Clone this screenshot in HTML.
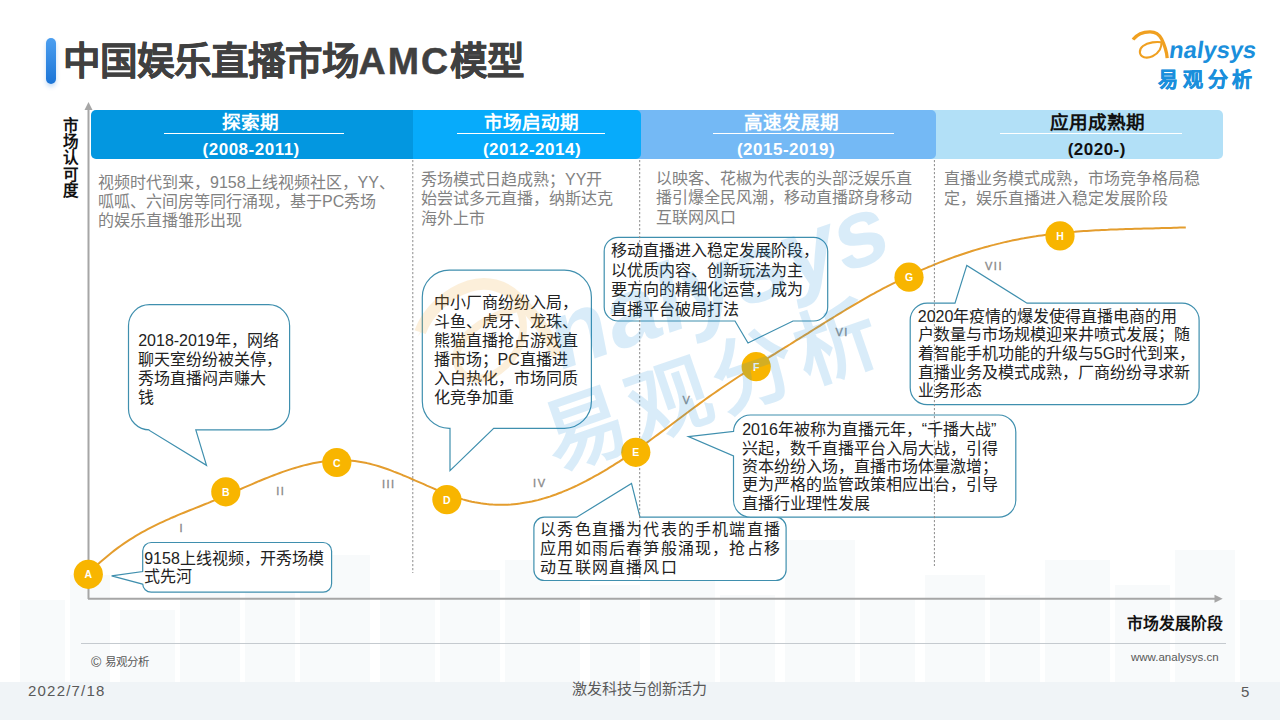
<!DOCTYPE html>
<html lang="zh-CN"><head><meta charset="utf-8"><style>
html,body{margin:0;padding:0;}
body{width:1280px;height:720px;position:relative;overflow:hidden;background:#fff;font-family:"Liberation Sans",sans-serif;}
.a{position:absolute;white-space:nowrap;}
.title{left:62.6px;top:29.5px;font-size:37.5px;font-weight:bold;color:#404040;-webkit-text-stroke:0.5px #404040;}
.bar{left:46px;top:38px;width:10px;height:46px;border-radius:5px;background:linear-gradient(#4c9ff0,#1b74d6);box-shadow:0 3px 4px rgba(30,120,220,0.25);}
.hd{top:110px;height:49px;}
.ht{font-size:18.6px;font-weight:bold;text-align:center;width:300px;top:107px;}
.hy{font-size:17px;font-weight:bold;text-align:center;width:300px;top:140px;letter-spacing:0.5px;}
.ds{font-size:16px;color:#828282;}
.ct{font-size:16px;color:#222;}
.co{fill:#fff;fill-opacity:1;stroke:#3f8fae;stroke-width:1.2;}
.nd{fill:#f8b500;}
.nt{font-size:10.5px;font-weight:bold;fill:#fff;}
.rm{font-size:11px;fill:#8a8a8a;stroke:#8a8a8a;stroke-width:0.35;}
.ft{color:#595959;}
</style></head><body>

<svg class="a" style="left:0;top:0" width="1280" height="720"><rect x="20" y="600" width="45" height="82" fill="#f8fafb"/><rect x="70" y="575" width="40" height="107" fill="#f8fafb"/><rect x="120" y="610" width="55" height="72" fill="#f8fafb"/><rect x="180" y="560" width="60" height="122" fill="#f8fafb"/><rect x="245" y="590" width="50" height="92" fill="#f8fafb"/><rect x="300" y="555" width="70" height="127" fill="#f8fafb"/><rect x="380" y="600" width="55" height="82" fill="#f8fafb"/><rect x="440" y="570" width="60" height="112" fill="#f8fafb"/><rect x="505" y="560" width="75" height="122" fill="#f8fafb"/><rect x="590" y="585" width="50" height="97" fill="#f8fafb"/><rect x="650" y="555" width="65" height="127" fill="#f8fafb"/><rect x="720" y="595" width="55" height="87" fill="#f8fafb"/><rect x="785" y="540" width="70" height="142" fill="#f8fafb"/><rect x="860" y="600" width="55" height="82" fill="#f8fafb"/><rect x="925" y="575" width="60" height="107" fill="#f8fafb"/><rect x="990" y="595" width="50" height="87" fill="#f8fafb"/><rect x="1045" y="560" width="65" height="122" fill="#f8fafb"/><rect x="1115" y="585" width="55" height="97" fill="#f8fafb"/><rect x="1175" y="550" width="60" height="132" fill="#f8fafb"/><rect x="1240" y="600" width="40" height="82" fill="#f8fafb"/><rect x="0" y="682" width="1280" height="38" fill="#f0f4f7"/></svg>
<div class="a bar"></div>
<div class="a title">中国娱乐直播市场<span style="letter-spacing:2px">AMC</span>模型</div>
<svg class="a" style="left:1128px;top:28px;overflow:visible" width="130" height="66"><g><path d="M5.0,11.6 C9,6.5 16,3.8 22.2,3.9 C27.5,4.0 31.5,7 33.6,11 C35.8,15.5 38.6,21.5 39.2,30.2" fill="none" stroke="#f0a020" stroke-width="3.3" stroke-linecap="butt"/>
<path d="M5.0,11.6 L3.8,12.6 L7.5,10.2 Z" fill="#f0a020"/>
<path d="M33.5,14.3 C29,13.6 20,14 15,18 C10.5,21.5 10.8,27.5 16,29.2 C21,30.8 28.5,27.5 31.8,21.8 C33.2,19.2 33.6,16.5 33.5,14.3" fill="none" stroke="#f0a020" stroke-width="2.1"/>
<text x="44.6" y="30.3" font-size="23.7" font-weight="bold" fill="#1a8fdc" font-family="Liberation Sans" transform="skewX(-8)" >nalysys</text>
<text x="30" y="59" font-size="20" font-weight="bold" fill="#1a8fdc" stroke="#1a8fdc" stroke-width="0.5" letter-spacing="4.8">易观分析</text></g></svg>
<div class="a hd" style="left:930.0px;width:293.0px;background:#b2e0f7;border-radius:0 5px 5px 0"></div>
<div class="a hd" style="left:635.0px;width:301.0px;background:#74b9f5;border-radius:0 5px 5px 0"></div>
<div class="a hd" style="left:406.5px;width:234.5px;background:#07abfb;border-radius:0 5px 5px 0"></div>
<div class="a hd" style="left:91.0px;width:321.5px;background:#0397e0;border-radius:5px 0 0 5px"></div>
<div class="a ht" style="left:100.5px;color:#fff">探索期</div>
<div class="a hy" style="left:101.2px;color:#fff">(2008-2011)</div>
<div class="a" style="left:163.5px;top:133px;width:180.5px;height:1px;background:#fff"></div>
<div class="a ht" style="left:381.4px;color:#fff">市场启动期</div>
<div class="a hy" style="left:382.0px;color:#fff">(2012-2014)</div>
<div class="a" style="left:457.0px;top:133px;width:147.5px;height:1px;background:#fff"></div>
<div class="a ht" style="left:641.5px;color:#fff">高速发展期</div>
<div class="a hy" style="left:636.0px;color:#fff">(2015-2019)</div>
<div class="a" style="left:712.5px;top:133px;width:181.5px;height:1px;background:#fff"></div>
<div class="a ht" style="left:947.5px;color:#111">应用成熟期</div>
<div class="a hy" style="left:946.8px;color:#111">(2020-)</div>
<div class="a" style="left:999.5px;top:133px;width:182.5px;height:1px;background:#fff"></div>
<div class="a ds" style="left:98.0px;top:172.50px;line-height:19.00px">视频时代到来，9158上线视频社区，YY、<br>呱呱、六间房等同行涌现，基于PC秀场<br>的娱乐直播雏形出现</div>
<div class="a ds" style="left:421.0px;top:169.90px;line-height:19.40px">秀场模式日趋成熟；YY开<br>始尝试多元直播，纳斯达克<br>海外上市</div>
<div class="a ds" style="left:656.0px;top:168.85px;line-height:19.50px">以映客、花椒为代表的头部泛娱乐直<br>播引爆全民风潮，移动直播跻身移动<br>互联网风口</div>
<div class="a ds" style="left:944.0px;top:169.05px;line-height:20.10px">直播业务模式成熟，市场竞争格局稳<br>定，娱乐直播进入稳定发展阶段</div>
<div class="a" style="left:62.5px;top:118px;font-size:15.5px;font-weight:bold;color:#111;line-height:16.2px;width:18px;white-space:normal">市<br>场<br>认<br>可<br>度</div>
<svg class="a" style="left:0;top:0" width="1280" height="720"><line x1="88.5" y1="599" x2="88.5" y2="108" stroke="#a6a6a6" stroke-width="2"/><path d="M84.5,110 L88.5,102 L92.5,110 Z" fill="#a6a6a6"/><line x1="88" y1="598.7" x2="1216" y2="598.7" stroke="#a6a6a6" stroke-width="2"/><path d="M1214.5,594.7 L1222.7,598.7 L1214.5,602.7 Z" fill="#a6a6a6"/><path d="M87.8,574.3 L90.8,571.2 L93.8,568.2 L96.8,565.4 L99.8,562.6 L102.8,560.0 L105.8,557.4 L108.8,554.9 L111.8,552.5 L114.8,550.1 L117.8,547.9 L120.8,545.7 L123.8,543.6 L126.8,541.6 L129.8,539.7 L132.8,537.8 L135.8,535.9 L138.8,534.2 L141.8,532.4 L144.8,530.8 L147.8,529.2 L150.8,527.6 L153.8,526.1 L156.8,524.6 L159.8,523.2 L162.8,521.8 L165.8,520.4 L168.8,519.1 L171.8,517.7 L174.8,516.5 L177.8,515.2 L180.8,513.9 L183.8,512.7 L186.8,511.5 L189.8,510.3 L192.8,509.1 L195.8,507.9 L198.8,506.7 L201.8,505.5 L204.8,504.3 L207.8,503.1 L210.8,501.8 L213.8,500.6 L216.8,499.3 L219.8,498.1 L222.8,496.8 L225.8,495.5 L228.8,494.2 L231.8,492.9 L234.8,491.6 L237.8,490.3 L240.8,489.0 L243.8,487.7 L246.8,486.4 L249.8,485.1 L252.8,483.8 L255.8,482.5 L258.8,481.2 L261.8,480.0 L264.8,478.8 L267.8,477.6 L270.8,476.4 L273.8,475.2 L276.8,474.1 L279.8,473.0 L282.8,471.9 L285.8,470.9 L288.8,469.9 L291.8,468.9 L294.8,468.0 L297.8,467.1 L300.8,466.2 L303.8,465.4 L306.8,464.7 L309.8,464.0 L312.8,463.3 L315.8,462.7 L318.8,462.2 L321.8,461.7 L324.8,461.3 L327.8,461.0 L330.8,460.7 L333.8,460.5 L336.8,460.3 L339.8,460.2 L342.8,460.2 L345.8,460.3 L348.8,460.5 L351.8,460.7 L354.8,461.0 L357.8,461.4 L360.8,461.9 L363.8,462.5 L366.8,463.1 L369.8,463.8 L372.8,464.6 L375.8,465.4 L378.8,466.3 L381.8,467.3 L384.8,468.3 L387.8,469.3 L390.8,470.4 L393.8,471.6 L396.8,472.7 L399.8,473.9 L402.8,475.2 L405.8,476.4 L408.8,477.7 L411.8,479.0 L414.8,480.3 L417.8,481.6 L420.8,482.9 L423.8,484.2 L426.8,485.6 L429.8,486.9 L432.8,488.2 L435.8,489.5 L438.8,490.7 L441.8,492.0 L444.8,493.2 L447.8,494.3 L450.8,495.5 L453.8,496.5 L456.8,497.5 L459.8,498.5 L462.8,499.4 L465.8,500.2 L468.8,501.0 L471.8,501.7 L474.8,502.3 L477.8,502.8 L480.8,503.3 L483.8,503.7 L486.8,504.1 L489.8,504.4 L492.8,504.6 L495.8,504.7 L498.8,504.8 L501.8,504.8 L504.8,504.8 L507.8,504.7 L510.8,504.5 L513.8,504.2 L516.8,503.9 L519.8,503.6 L522.8,503.1 L525.8,502.6 L528.8,502.1 L531.8,501.5 L534.8,500.8 L537.8,500.1 L540.8,499.3 L543.8,498.4 L546.8,497.5 L549.8,496.6 L552.8,495.5 L555.8,494.5 L558.8,493.3 L561.8,492.2 L564.8,490.9 L567.8,489.7 L570.8,488.3 L573.8,487.0 L576.8,485.6 L579.8,484.1 L582.8,482.6 L585.8,481.1 L588.8,479.5 L591.8,477.9 L594.8,476.2 L597.8,474.6 L600.8,472.8 L603.8,471.1 L606.8,469.3 L609.8,467.4 L612.8,465.6 L615.8,463.7 L618.8,461.8 L621.8,459.8 L624.8,457.9 L627.8,455.9 L630.8,453.8 L633.8,451.8 L636.8,449.7 L639.8,447.6 L642.8,445.5 L645.8,443.4 L648.8,441.2 L651.8,439.0 L654.8,436.8 L657.8,434.6 L660.8,432.4 L663.8,430.2 L666.8,428.0 L669.8,425.7 L672.8,423.5 L675.8,421.2 L678.8,419.0 L681.8,416.7 L684.8,414.5 L687.8,412.3 L690.8,410.0 L693.8,407.8 L696.8,405.6 L699.8,403.4 L702.8,401.2 L705.8,399.0 L708.8,396.9 L711.8,394.8 L714.8,392.7 L717.8,390.6 L720.8,388.5 L723.8,386.5 L726.8,384.5 L729.8,382.5 L732.8,380.5 L735.8,378.5 L738.8,376.5 L741.8,374.6 L744.8,372.6 L747.8,370.7 L750.8,368.8 L753.8,366.9 L756.8,365.0 L759.8,363.1 L762.8,361.2 L765.8,359.4 L768.8,357.5 L771.8,355.6 L774.8,353.8 L777.8,351.9 L780.8,350.0 L783.8,348.2 L786.8,346.3 L789.8,344.5 L792.8,342.6 L795.8,340.7 L798.8,338.9 L801.8,337.0 L804.8,335.1 L807.8,333.3 L810.8,331.4 L813.8,329.5 L816.8,327.6 L819.8,325.8 L822.8,323.9 L825.8,322.0 L828.8,320.2 L831.8,318.3 L834.8,316.5 L837.8,314.6 L840.8,312.8 L843.8,311.0 L846.8,309.2 L849.8,307.4 L852.8,305.6 L855.8,303.8 L858.8,302.1 L861.8,300.3 L864.8,298.6 L867.8,296.9 L870.8,295.2 L873.8,293.6 L876.8,291.9 L879.8,290.3 L882.8,288.7 L885.8,287.2 L888.8,285.6 L891.8,284.1 L894.8,282.6 L897.8,281.1 L900.8,279.6 L903.8,278.1 L906.8,276.7 L909.8,275.3 L912.8,273.9 L915.8,272.6 L918.8,271.2 L921.8,269.9 L924.8,268.6 L927.8,267.3 L930.8,266.1 L933.8,264.8 L936.8,263.6 L939.8,262.4 L942.8,261.3 L945.8,260.1 L948.8,259.0 L951.8,257.9 L954.8,256.8 L957.8,255.8 L960.8,254.7 L963.8,253.7 L966.8,252.7 L969.8,251.8 L972.8,250.8 L975.8,249.9 L978.8,249.0 L981.8,248.1 L984.8,247.3 L987.8,246.5 L990.8,245.6 L993.8,244.9 L996.8,244.1 L999.8,243.4 L1002.8,242.6 L1005.8,241.9 L1008.8,241.3 L1011.8,240.6 L1014.8,240.0 L1017.8,239.4 L1020.8,238.8 L1023.8,238.3 L1026.8,237.7 L1029.8,237.2 L1032.8,236.7 L1035.8,236.3 L1038.8,235.8 L1041.8,235.4 L1044.8,235.0 L1047.8,234.6 L1050.8,234.2 L1053.8,233.8 L1056.8,233.5 L1059.8,233.2 L1062.8,232.9 L1065.8,232.6 L1068.8,232.3 L1071.8,232.0 L1074.8,231.8 L1077.8,231.5 L1080.8,231.3 L1083.8,231.1 L1086.8,230.9 L1089.8,230.7 L1092.8,230.5 L1095.8,230.3 L1098.8,230.2 L1101.8,230.0 L1104.8,229.9 L1107.8,229.8 L1110.8,229.6 L1113.8,229.5 L1116.8,229.4 L1119.8,229.3 L1122.8,229.2 L1125.8,229.1 L1128.8,229.0 L1131.8,228.9 L1134.8,228.8 L1137.8,228.7 L1140.8,228.7 L1143.8,228.6 L1146.8,228.5 L1149.8,228.4 L1152.8,228.4 L1155.8,228.3 L1158.8,228.2 L1161.8,228.1 L1164.8,228.1 L1167.8,228.0 L1170.8,227.9 L1173.8,227.8 L1176.8,227.7 L1179.8,227.6 L1182.8,227.5 L1185.8,227.4" fill="none" stroke="#e49d2e" stroke-width="2.0" stroke-linejoin="round"/><path d="M149.5,304.7 L268.6,304.7 A21.0,21.0 0 0 1 289.6,325.7 L289.6,408.9 A21.0,21.0 0 0 1 268.6,429.9 L195.8,429.9 L206.5,465.3 L148.6,429.9 L149.5,429.9 A21.0,21.0 0 0 1 128.5,408.9 L128.5,325.7 A21.0,21.0 0 0 1 149.5,304.7 Z" class="co"/><path d="M151.2,542.5 L323.1,542.5 A8.5,8.5 0 0 1 331.6,551.0 L331.6,583.7 A8.5,8.5 0 0 1 323.1,592.2 L151.2,592.2 A8.5,8.5 0 0 1 142.7,583.7 L142.7,584.1 L111.6,575.9 L142.7,571.6 L142.7,551.0 A8.5,8.5 0 0 1 151.2,542.5 Z" class="co"/><path d="M449.3,270.2 L564.4,270.2 A27.0,27.0 0 0 1 591.4,297.2 L591.4,401.3 A27.0,27.0 0 0 1 564.4,428.3 L493.7,428.3 L450.0,470.6 L450.0,428.3 L449.3,428.3 A27.0,27.0 0 0 1 422.3,401.3 L422.3,297.2 A27.0,27.0 0 0 1 449.3,270.2 Z" class="co"/><path d="M544.3,517.2 L576.7,517.2 L631.5,483.4 L640.0,517.2 L775.7,517.2 A10.4,10.4 0 0 1 786.1,527.6 L786.1,570.1 A10.4,10.4 0 0 1 775.7,580.5 L544.3,580.5 A10.4,10.4 0 0 1 533.9,570.1 L533.9,527.6 A10.4,10.4 0 0 1 544.3,517.2 Z" class="co"/><path d="M618.2,237.3 L813.7,237.3 A14.0,14.0 0 0 1 827.7,251.3 L827.7,307.0 A14.0,14.0 0 0 1 813.7,321.0 L793.0,321.0 L748.0,343.0 L735.0,321.0 L618.2,321.0 A14.0,14.0 0 0 1 604.2,307.0 L604.2,251.3 A14.0,14.0 0 0 1 618.2,237.3 Z" class="co"/><path d="M750.5,415.0 L998.8,415.0 A17.0,17.0 0 0 1 1015.8,432.0 L1015.8,500.2 A17.0,17.0 0 0 1 998.8,517.2 L750.5,517.2 A17.0,17.0 0 0 1 733.5,500.2 L733.5,456.0 L688.4,436.6 L733.5,431.5 L733.5,432.0 A17.0,17.0 0 0 1 750.5,415.0 Z" class="co"/><path d="M927.2,303.2 L955.0,303.2 L966.8,265.4 L1027.0,303.2 L1182.1,303.2 A17.0,17.0 0 0 1 1199.1,320.2 L1199.1,387.7 A17.0,17.0 0 0 1 1182.1,404.7 L927.2,404.7 A17.0,17.0 0 0 1 910.2,387.7 L910.2,320.2 A17.0,17.0 0 0 1 927.2,303.2 Z" class="co"/><line x1="412.8" y1="160" x2="412.8" y2="573" stroke="#8c8c8c" stroke-width="1" stroke-dasharray="2.2,1.8"/><line x1="639.7" y1="160" x2="639.7" y2="578" stroke="#8c8c8c" stroke-width="1" stroke-dasharray="2.2,1.8"/><line x1="934.4" y1="160" x2="934.4" y2="566" stroke="#8c8c8c" stroke-width="1" stroke-dasharray="2.2,1.8"/><circle cx="88.3" cy="574.3" r="14.6" class="nd"/><text x="88.3" y="578.3" text-anchor="middle" class="nt">A</text><circle cx="225.8" cy="491.8" r="14.6" class="nd"/><text x="225.8" y="495.8" text-anchor="middle" class="nt">B</text><circle cx="336.8" cy="462.5" r="14.6" class="nd"/><text x="336.8" y="466.5" text-anchor="middle" class="nt">C</text><circle cx="446.9" cy="499.6" r="14.6" class="nd"/><text x="446.9" y="503.6" text-anchor="middle" class="nt">D</text><circle cx="635.8" cy="452.3" r="14.6" class="nd"/><text x="635.8" y="456.3" text-anchor="middle" class="nt">E</text><circle cx="756.2" cy="366.7" r="14.6" class="nd"/><text x="756.2" y="370.7" text-anchor="middle" class="nt">F</text><circle cx="909.0" cy="277.2" r="14.6" class="nd"/><text x="909.0" y="281.2" text-anchor="middle" class="nt">G</text><circle cx="1060.0" cy="235.9" r="14.6" class="nd"/><text x="1060.0" y="239.9" text-anchor="middle" class="nt">H</text><text x="181.8" y="532.0" text-anchor="middle" class="rm" letter-spacing="1.5">I</text><text x="280.8" y="495.0" text-anchor="middle" class="rm" letter-spacing="1.5">II</text><text x="388.8" y="488.0" text-anchor="middle" class="rm" letter-spacing="1.5">III</text><text x="539.8" y="487.3" text-anchor="middle" class="rm" letter-spacing="1.5">IV</text><text x="686.8" y="403.6" text-anchor="middle" class="rm" letter-spacing="1.5">V</text><text x="842.1" y="336.0" text-anchor="middle" class="rm" letter-spacing="1.5">VI</text><text x="994.0" y="270.0" text-anchor="middle" class="rm" letter-spacing="1.5">VII</text></svg>
<div class="a ct" style="left:138.2px;top:332.3px;line-height:18.95px;letter-spacing:0.00px">2018-2019年，网络<br>聊天室纷纷被关停，<br>秀场直播闷声赚大<br>钱</div>
<div class="a ct" style="left:144.2px;top:549.7px;line-height:18.60px;letter-spacing:0.00px">9158上线视频，开秀场模<br>式先河</div>
<div class="a ct" style="left:433.5px;top:292.5px;line-height:19.18px;letter-spacing:0.00px">中小厂商纷纷入局，<br>斗鱼、虎牙、龙珠、<br>熊猫直播抢占游戏直<br>播市场；PC直播进<br>入白热化，市场同质<br>化竞争加重</div>
<div class="a ct" style="left:540.3px;top:521.0px;line-height:18.75px;letter-spacing:1.20px">以秀色直播为代表的手机端直播<br>应用如雨后春笋般涌现，抢占移<br>动互联网直播风口</div>
<div class="a ct" style="left:611.2px;top:241.1px;line-height:19.58px;letter-spacing:0.00px">移动直播进入稳定发展阶段，<br>以优质内容、创新玩法为主<br>要方向的精细化运营，成为<br>直播平台破局打法</div>
<div class="a ct" style="left:742.2px;top:421.2px;line-height:18.37px;letter-spacing:0.00px">2016年被称为直播元年，“千播大战”<br>兴起，数千直播平台入局大战，引得<br>资本纷纷入场，直播市场体量激增；<br>更为严格的监管政策相应出台，引导<br>直播行业理性发展</div>
<div class="a ct" style="left:917.8px;top:307.9px;line-height:18.57px;letter-spacing:0.00px">2020年疫情的爆发使得直播电商的用<br>户数量与市场规模迎来井喷式发展；随<br>着智能手机功能的升级与5G时代到来，<br>直播业务及模式成熟，厂商纷纷寻求新<br>业务形态</div>
<svg class="a" style="left:0;top:0;opacity:0.16" width="1280" height="720"><g transform="translate(709,381.5) rotate(-19) scale(3.57) translate(-77,-51)"><path d="M5.0,11.6 C9,6.5 16,3.8 22.2,3.9 C27.5,4.0 31.5,7 33.6,11 C35.8,15.5 38.6,21.5 39.2,30.2" fill="none" stroke="#f0a020" stroke-width="3.3" stroke-linecap="butt"/>
<path d="M5.0,11.6 L3.8,12.6 L7.5,10.2 Z" fill="#f0a020"/>
<path d="M33.5,14.3 C29,13.6 20,14 15,18 C10.5,21.5 10.8,27.5 16,29.2 C21,30.8 28.5,27.5 31.8,21.8 C33.2,19.2 33.6,16.5 33.5,14.3" fill="none" stroke="#f0a020" stroke-width="2.1"/>
<text x="42.5" y="34.5" font-size="27" font-weight="bold" fill="#1a8fdc" font-family="Liberation Sans" transform="skewX(-8)" >nalysys</text>
<text x="28.5" y="60.5" font-size="23" font-weight="bold" fill="#1a8fdc" stroke="#1a8fdc" stroke-width="0" letter-spacing="1.8">易观分析</text></g></svg>
<div class="a" style="left:1127px;top:610.5px;font-size:15.8px;font-weight:bold;color:#111">市场发展阶段</div>
<div class="a" style="left:81px;top:643px;width:1145px;height:1px;background:#c5cacf"></div>
<div class="a ft" style="left:91px;top:652.5px;font-size:11.5px"><span style="font-size:14px;vertical-align:-1px">©</span> 易观分析</div>
<div class="a ft" style="left:1131px;top:651px;font-size:11.5px">www.analysys.cn</div>
<div class="a ft" style="left:28px;top:682px;font-size:15px;letter-spacing:1.2px">2022/7/18</div>
<div class="a ft" style="left:571.5px;top:677px;font-size:15px">激发科技与创新活力</div>
<div class="a ft" style="left:1241px;top:683px;font-size:15px">5</div>
</body></html>
